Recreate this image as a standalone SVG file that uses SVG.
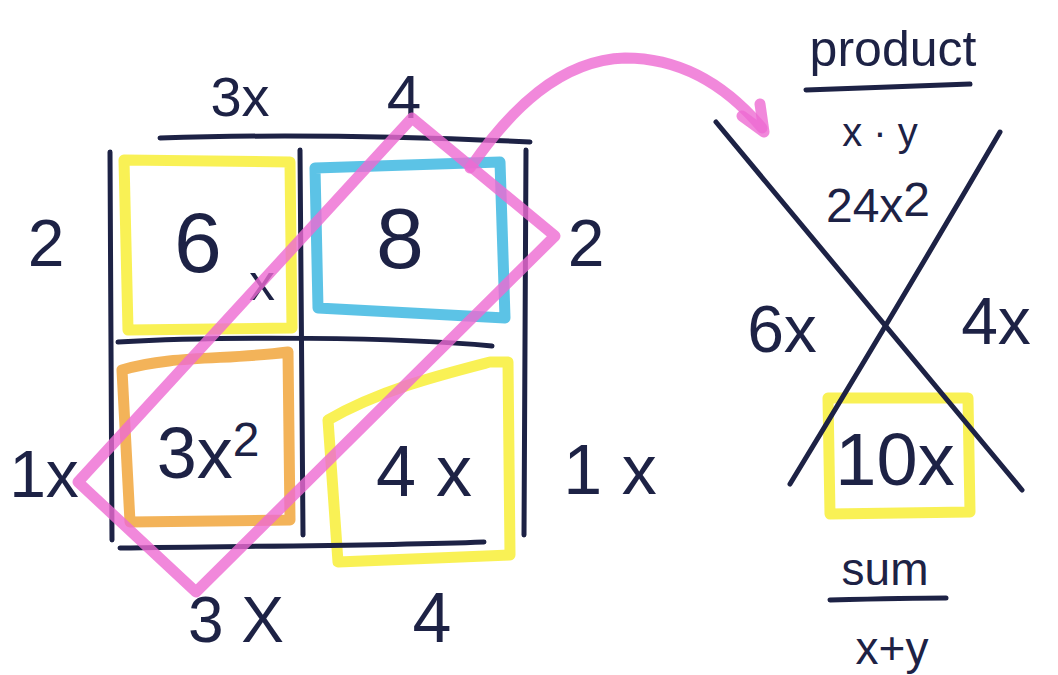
<svg xmlns="http://www.w3.org/2000/svg" width="1058" height="675" viewBox="0 0 1058 675">
<style>
.ink{fill:none;stroke:#1d2245;stroke-width:5;stroke-linecap:round;stroke-linejoin:round}
.t{font-family:"Liberation Sans",Arial,sans-serif;fill:#1d2245;text-anchor:middle}
.hl{fill:none;stroke-width:11;stroke-linejoin:round;stroke-linecap:round;opacity:0.8}
.y{stroke:#f7ee2a}.b{stroke:#33b4e0}.o{stroke:#f0a030}.p{stroke:#ee6ad2}
</style>
<rect width="1058" height="675" fill="#ffffff"/>
<g id="highlights">
<path class="hl y" d="M124,160 L290,162 L292,328 L128,330 Z"/>
<path class="hl b" d="M315,168 L500,162 L505,318 L318,308 Z"/>
<path class="hl o" d="M122,370 C170,355 230,360 288,352 L290,520 L130,522 Z"/>
<path class="hl y" d="M328,420 C380,390 440,375 490,362 L508,362 L510,555 L338,562 Z"/>
<path class="hl y" d="M828,398 L968,398 L970,512 L830,514 Z"/>
</g>
<g id="grid">
<path class="ink" d="M160,138 C280,134 420,137 530,142"/>
<path class="ink" d="M110,152 L112,540"/>
<path class="ink" d="M300,150 L303,535"/>
<path class="ink" d="M526,150 L524,535"/>
<path class="ink" d="M118,342 C220,336 400,337 492,346"/>
<path class="ink" d="M120,548 C240,546 380,546 484,542"/>
</g>
<g id="labels">
<text class="t" x="240" y="116" font-size="56">3x</text>
<text class="t" x="404" y="118" font-size="62">4</text>
<text class="t" x="46" y="266" font-size="66">2</text>
<text class="t" x="198" y="272" font-size="86">6</text>
<text class="t" x="262" y="300" font-size="52">x</text>
<text class="t" x="400" y="268" font-size="86">8</text>
<text class="t" x="586" y="266" font-size="66">2</text>
<text class="t" x="44" y="497" font-size="66">1x</text>
<text class="t" x="208" y="478" font-size="72">3x<tspan dy="-22" font-size="48">2</tspan></text>
<text class="t" x="424" y="496" font-size="72">4 x</text>
<text class="t" x="610" y="494" font-size="70">1 x</text>
<text class="t" x="236" y="642" font-size="64">3 X</text>
<text class="t" x="432" y="642" font-size="70">4</text>
</g>
<g id="pink">
<path class="hl p" d="M412,118 L555,236 L196,592 L78,482 Z"/>
</g>
<g id="connectors">
<path class="hl p" d="M470,168 C510,110 560,60 625,58 C685,58 730,90 762,128"/>
<path class="hl p" d="M742,116 L764,132 L760,104"/>
</g>
<g id="xdiagram">
<text class="t" x="893" y="66" font-size="50">product</text>
<path class="ink" d="M806,90 C860,88 920,86 970,84"/>
<text class="t" x="880" y="146" font-size="40">x · y</text>
<text class="t" x="878" y="222" font-size="48">24x<tspan dy="-6">2</tspan></text>
<path class="ink" d="M716,122 Q862,298 1022,490"/>
<path class="ink" d="M1000,132 Q902,300 790,484"/>
<text class="t" x="782" y="352" font-size="66">6x</text>
<text class="t" x="996" y="344" font-size="66">4x</text>
<text class="t" x="895" y="485" font-size="74">10x</text>
<text class="t" x="885" y="585" font-size="46">sum</text>
<path class="ink" d="M830,600 C870,599 910,598 946,598"/>
<text class="t" x="892" y="664" font-size="46">x+y</text>
</g>
</svg>
